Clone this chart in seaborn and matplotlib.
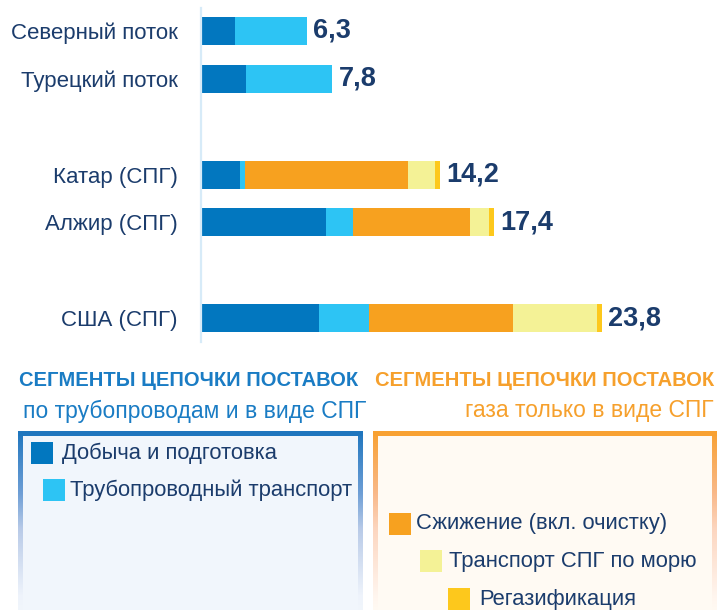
import numpy as np
import pandas as pd
import matplotlib
matplotlib.use("Agg")
import matplotlib.pyplot as plt
import seaborn as sns
from matplotlib.patches import Rectangle

# ---------------- data ----------------
categories = ["Северный поток", "Турецкий поток", "Катар (СПГ)", "Алжир (СПГ)", "США (СПГ)"]
production = [2.0, 2.7, 2.3, 7.4, 7.0]
pipeline = [4.3, 5.1, 0.3, 1.6, 3.0]
liquefaction = [0.0, 0.0, 9.7, 7.0, 8.5]
shipping = [0.0, 0.0, 1.6, 1.1, 5.0]
regasification = [0.0, 0.0, 0.3, 0.3, 0.3]
total_labels = ["6,3", "7,8", "14,2", "17,4", "23,8"]
row_order = ["Северный поток", "Турецкий поток", " ", "Катар (СПГ)", "Алжир (СПГ)", "  ", "США (СПГ)"]

segment_names = ["Добыча и подготовка", "Трубопроводный транспорт",
                 "Сжижение (вкл. очистку)", "Транспорт СПГ по морю", "Регазификация"]
segment_colors = ["#0277bf", "#2dc4f4", "#f7a11f", "#f4f296", "#fdc81c"]
heading_left = ["СЕГМЕНТЫ ЦЕПОЧКИ ПОСТАВОК", "по трубопроводам и в виде СПГ"]
heading_right = ["СЕГМЕНТЫ ЦЕПОЧКИ ПОСТАВОК", "газа только в виде СПГ"]

segments = [production, pipeline, liquefaction, shipping, regasification]
df = pd.DataFrame({"category": categories})
for name, vals in zip(segment_names, segments):
    df[name] = vals
cum = df[segment_names].cumsum(axis=1)
df["total"] = cum[segment_names[-1]]

# ---------------- style ----------------
sns.set_style("white")
plt.rcParams["font.family"] = ["Liberation Sans", "DejaVu Sans"]
navy = "#1b3c6c"

W, H = 717, 610
fig = plt.figure(figsize=(W / 100, H / 100), dpi=100)

# bar axes: x from 201 px to right edge, y from 8 px to 342 px
ax = fig.add_axes([201 / W, 1 - 342 / H, (W - 201) / W, 334 / H])
for k in range(len(segment_names) - 1, -1, -1):
    sns.barplot(data=cum.assign(category=categories), x=segment_names[k], y="category",
                order=row_order, color=segment_colors[k], width=0.585,
                saturation=1, linewidth=0, errorbar=None, ax=ax, orient="h")

ax.set_xlim(0, (W - 201) / 16.84)
ax.set_ylim(6.5, -0.48)
ax.set_xlabel("")
ax.set_ylabel("")
ax.set_xticks([])
for s in ["top", "right", "bottom"]:
    ax.spines[s].set_visible(False)
ax.spines["left"].set_color("#d7ebf8")
ax.spines["left"].set_linewidth(1.6)
ax.tick_params(axis="y", length=0, pad=17, labelsize=16, labelcolor=navy)
ax.set_facecolor("none")

for cat, tot, lab in zip(categories, df["total"], total_labels):
    ax.annotate(lab, xy=(tot, row_order.index(cat)), xytext=(4.5, 0),
                textcoords="offset points", ha="left", va="center",
                fontsize=19.5, fontweight="bold", color=navy)

# ---------------- legend panels ----------------
ov = fig.add_axes([0, 0, 1, 1])
ov.set_axis_off()
ov.set_facecolor("none")


def vgrad(x0, x1, y0, y1, stops):
    n = 200
    t = np.linspace(0, 1, n)
    pos = [s[0] for s in stops]
    cols = np.array([matplotlib.colors.to_rgb(s[1]) for s in stops])
    arr = np.stack([np.interp(t, pos, cols[:, i]) for i in range(3)], axis=1)
    arr = arr[:, None, :]
    ov.imshow(arr, extent=(x0, x1, y1, y0), origin="upper", aspect="auto",
              interpolation="bilinear", zorder=2)


# blue panel
ov.add_patch(Rectangle((18, 431), 345, 190, facecolor="#f1f6fc", edgecolor="none", zorder=1))
blue_stops = [(0, "#1f76be"), (0.35, "#6f9fd6"), (0.55, "#b9cbe8"), (0.92, "#eef3fb"), (1, "#f1f6fc")]
vgrad(18, 23, 431, 610, blue_stops)
vgrad(358, 363, 431, 610, blue_stops)
ov.add_patch(Rectangle((18, 431), 345, 5, facecolor="#1f76be", edgecolor="none", zorder=3))

# orange panel
ov.add_patch(Rectangle((373, 431), 344, 190, facecolor="#fffaf3", edgecolor="none", zorder=1))
orange_stops = [(0, "#f8a132"), (0.35, "#f9b98a"), (0.55, "#fcd6c0"), (0.92, "#fff5ee"), (1, "#fffaf3")]
vgrad(373, 378, 431, 610, orange_stops)
vgrad(712, 717, 431, 610, orange_stops)
ov.add_patch(Rectangle((373, 431), 344, 5, facecolor="#f8a132", edgecolor="none", zorder=3))

# headings
blue_h = "#1a7cc4"
orange_h = "#f6a02c"
ov.text(189, 381, heading_left[0], ha="center", va="center", fontsize=14.5,
        fontweight="bold", color=blue_h, zorder=4)
ov.text(195, 411, heading_left[1], ha="center", va="center", fontsize=16.5,
        color=blue_h, zorder=4)
ov.text(714, 381, heading_right[0], ha="right", va="center", fontsize=14.5,
        fontweight="bold", color=orange_h, zorder=4)
ov.text(714, 411, heading_right[1], ha="right", va="center", fontsize=16.5,
        color=orange_h, zorder=4)

# legend items: (square x, square y, text x)
legend_pos = [(31, 442, 62), (43, 479, 70), (389, 513, 416), (420, 550, 449), (448, 588, 479)]
for (sx, sy, tx), name, col in zip(legend_pos, segment_names, segment_colors):
    ov.add_patch(Rectangle((sx, sy), 22, 22, facecolor=col, edgecolor="none", zorder=4))
    ov.text(tx, sy + 11, name, ha="left", va="center", fontsize=15.8, color=navy, zorder=4)

ov.set_xlim(0, W)
ov.set_ylim(H, 0)

fig.savefig("out.png", dpi=100)
